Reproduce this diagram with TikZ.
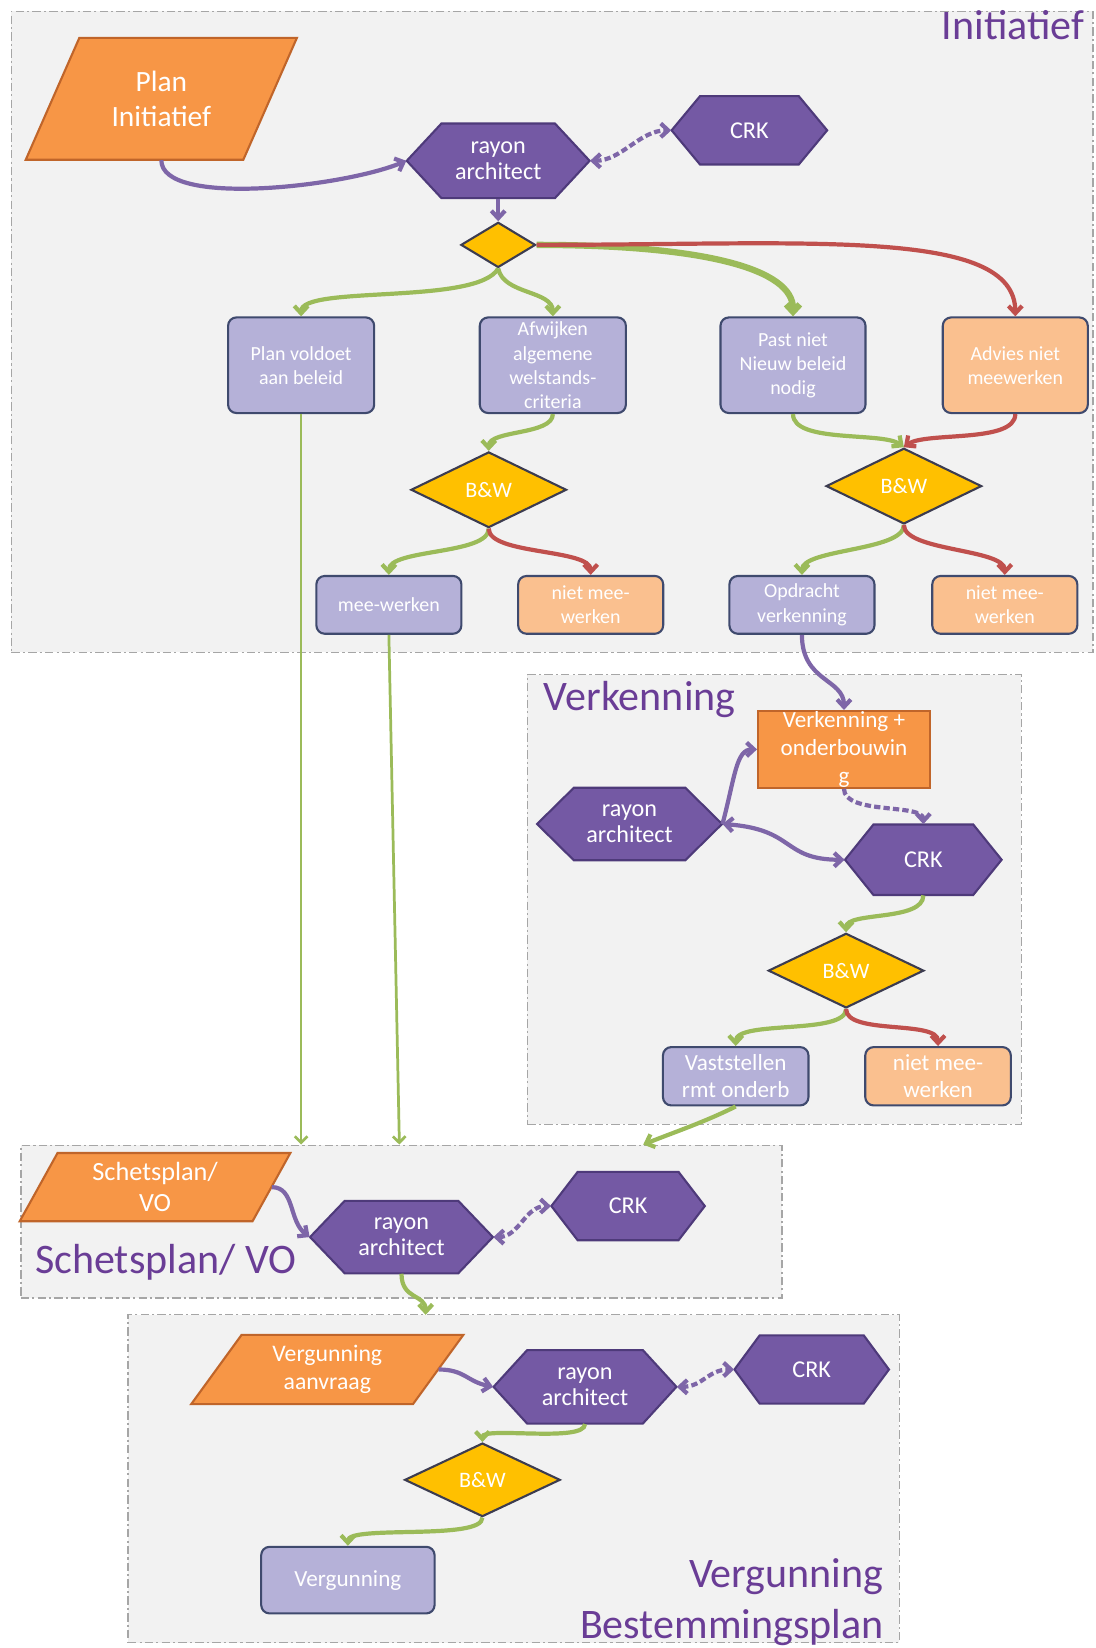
\documentclass[tikz,border=0pt]{standalone}
\usepackage{fontspec}
\setmainfont{Carlito}
\usetikzlibrary{shapes.geometric,arrows.meta,calc}

\definecolor{framefill}{HTML}{F2F2F2}
\definecolor{framedraw}{HTML}{A6A6A6}
\definecolor{hexfill}{HTML}{7459A4}
\definecolor{hexdraw}{HTML}{4E3A7A}
\definecolor{lav}{HTML}{B5B1D8}
\definecolor{boxdraw}{HTML}{3F4A6E}
\definecolor{lorange}{HTML}{FAC08F}
\definecolor{dorange}{HTML}{F79646}
\definecolor{dorangedraw}{HTML}{C0652A}
\definecolor{gold}{HTML}{FFC000}
\definecolor{diadraw}{HTML}{3C3C50}
\definecolor{cgreen}{HTML}{9BBB59}
\definecolor{cred}{HTML}{C0504D}
\definecolor{cpurple}{HTML}{7E66A8}
\definecolor{titlepurple}{HTML}{6A3D96}

\newcommand\myhex[7]{%
  \filldraw[hexshape] ({#2-#4/2},#3) -- ({#2-#4/2+#6},{#3-#5/2}) -- ({#2+#4/2-#6},{#3-#5/2}) -- ({#2+#4/2},#3) -- ({#2+#4/2-#6},{#3+#5/2}) -- ({#2-#4/2+#6},{#3+#5/2}) -- cycle;
  \node[hextext, minimum width={#4*0.5pt}, minimum height={#5*0.5pt}] (#1) at (#2,#3) {#7};}
\newcommand\mypara[8]{%
  \filldraw[parashape] ({#2-#4/2+#6/2},{#3-#5/2}) -- ({#2+#4/2+#6/2},{#3-#5/2}) -- ({#2+#4/2-#6/2},{#3+#5/2}) -- ({#2-#4/2-#6/2},{#3+#5/2}) -- cycle;
  \node[paratext, font=#7, minimum width={#4*0.5pt}, minimum height={#5*0.5pt}] (#1) at (#2,#3) {#8};}

\begin{document}
\begin{tikzpicture}[x=0.5pt,y=-0.5pt,
  frame/.style={draw=framedraw, fill=framefill, line width=0.8pt, dash pattern=on 4pt off 1.5pt on 1pt off 1.5pt, anchor=north west, inner sep=0pt},
  title/.style={text=titlepurple, font=\fontsize{20}{24}\selectfont, inner sep=0pt},
  hexshape/.style={fill=hexfill, draw=hexdraw, line width=1pt},
  hextext/.style={text=white, font=\fontsize{11.5}{12.5}\selectfont, align=center, inner sep=0pt},
  parashape/.style={fill=dorange, draw=dorangedraw, line width=1pt},
  paratext/.style={text=white, align=center, inner sep=0pt},
  rbox/.style={rounded corners=4pt, draw=boxdraw, line width=1pt, text=white, align=center, inner sep=0pt, font=\fontsize{9.5}{11.5}\selectfont},
  lavbox/.style={rbox, fill=lav},
  orbox/.style={rbox, fill=lorange},
  bigtext/.style={font=\fontsize{11}{13}\selectfont},
  dia/.style={diamond, fill=gold, draw=diadraw, line width=1pt, inner sep=0pt, text=white, font=\fontsize{10.5}{12}\selectfont},
  con/.style={line width=2pt, -{Straight Barb[length=3.5pt,width=6.5pt]}},
  gcon/.style={con, draw=cgreen},
  rcon/.style={con, draw=cred},
  pcon/.style={con, draw=cpurple},
  dpcon/.style={pcon, dash pattern=on 3pt off 1.5pt, {Straight Barb[length=3.5pt,width=6.5pt]}-{Straight Barb[length=3.5pt,width=6.5pt]}},
  gline/.style={draw=cgreen, line width=1.3pt, -{Straight Barb[length=3pt,width=6pt]}}
]
\fill[white] (0,0) rectangle (1042,1568);
\useasboundingbox (0,0) rectangle (1042,1568);

% frames
\node[frame, minimum width=514.5pt, minimum height=305pt] (fi) at (10,10) {};
\node[frame, minimum width=235pt, minimum height=214pt] (fv) at (501,641) {};
\node[frame, minimum width=362pt, minimum height=72.5pt] (fs) at (19,1089) {};
\node[frame, minimum width=367pt, minimum height=156pt] (fg) at (121,1250) {};

% titles
\node[title, anchor=base east] (ti) at (1032,38) {Initiatief};
\node[title, anchor=base west] (tv) at (517,676) {Verkenning};
\node[title, anchor=base west] (ts) at (33,1212) {Schetsplan/ VO};
\node[title, anchor=base east] (tg) at (841,1510) {Vergunning};
\node[title, anchor=base east] (tb) at (841,1559) {Bestemmingsplan};

% Initiatief
\mypara{pi}{153.5}{94}{207}{116}{51}{\fontsize{14}{16.5}\selectfont}{Plan\\Initiatief}
\myhex{ra1}{474}{153}{174}{71}{33}{rayon\\architect}
\myhex{crk1}{713}{124}{148}{65}{27}{CRK}
\node[dia, minimum width=35.5pt, minimum height=21.5pt] (d1) at (474,233) {};
\node[lavbox, minimum width=69.5pt, minimum height=45.5pt] (pv) at (286.5,347.5) {Plan voldoet\\aan beleid};
\node[lavbox, minimum width=69.5pt, minimum height=45.5pt] (aw) at (526,347.5) {Afwijken\\algemene\\welstands-\\criteria};
\node[lavbox, minimum width=69pt, minimum height=45.5pt] (pn) at (754.5,347.5) {Past niet\\Nieuw beleid\\nodig};
\node[orbox, minimum width=69pt, minimum height=45.5pt] (an) at (966,347.5) {Advies niet\\meewerken};
\node[dia, minimum width=74pt, minimum height=36pt] (bw1) at (465,466) {B\&W};
\node[dia, minimum width=74pt, minimum height=36pt] (bw2) at (860,462.5) {B\&W};
\node[lavbox, minimum width=69pt, minimum height=27.5pt] (mw) at (370,575.5) {mee-werken};
\node[orbox, minimum width=69pt, minimum height=27.5pt] (nm1) at (562,575.5) {niet mee-\\werken};
\node[lavbox, minimum width=69pt, minimum height=27.5pt] (ov) at (763,575.5) {Opdracht\\verkenning};
\node[orbox, minimum width=69pt, minimum height=27.5pt] (nm2) at (956,575.5) {niet mee-\\werken};

% Verkenning
\node[draw=dorangedraw, fill=dorange, line width=1pt, text=white, align=center, inner sep=0pt, font=\fontsize{11}{13.25}\selectfont, minimum width=81.75pt, minimum height=36.5pt] (vo) at (803,713) {Verkenning +\\onderbouwin\\g};
\myhex{ra2}{599}{784}{176}{69}{35}{rayon\\architect}
\myhex{crk2}{878.5}{818}{149}{67}{27}{CRK}
\node[dia, minimum width=74pt, minimum height=35.5pt] (bw3) at (805,923.5) {B\&W};
\node[lavbox, bigtext, minimum width=69.25pt, minimum height=27.75pt] (vs) at (700,1024) {Vaststellen\\rmt onderb};
\node[orbox, bigtext, minimum width=69.25pt, minimum height=27.75pt] (nm3) at (892.5,1024) {niet mee-\\werken};

% Schetsplan
\mypara{sk}{147.5}{1129.5}{221.5}{65}{36}{\fontsize{12.5}{15}\selectfont}{Schetsplan/\\VO}
\myhex{ra3}{382}{1177}{174}{69}{33}{rayon\\architect}
\myhex{crk3}{597.6}{1147.5}{146}{65}{25}{CRK}

% Vergunning
\mypara{va}{311.4}{1303}{211}{66}{48}{\fontsize{11.3}{13.5}\selectfont}{Vergunning\\aanvraag}
\myhex{ra4}{556.6}{1319.5}{174}{70}{32}{rayon\\architect}
\myhex{crk4}{772.3}{1303}{147}{65}{24}{CRK}
\node[dia, minimum width=74pt, minimum height=35pt] (bw4) at (459,1408) {B\&W};
\node[lavbox, bigtext, minimum width=82.5pt, minimum height=31.7pt] (vg) at (331,1503.4) {Vergunning};

% connectors Initiatief
\draw[pcon] (pi.south) .. controls +(0,45) and +(-60,25) .. (ra1.west);
\draw[dpcon] (ra1.east) .. controls +(30,0) and +(-30,0) .. (crk1.west);
\draw[pcon] (ra1.south) -- (d1.north);
\draw[gcon] (d1.south) .. controls +(-20,35) and +(0,-30) .. (pv.north);
\draw[gcon] (d1.south) .. controls +(5,25) and +(0,-25) .. (aw.north);
\draw[gcon, line width=3pt] (d1.east) .. controls +(160,0) and +(0,-45) .. (pn.north);
\draw[rcon] (d1.east) .. controls +(260,0) and +(0,-85) .. (an.north);
\draw[gcon] (aw.south) .. controls +(0,20) and +(0,-20) .. (bw1.north);
\draw[gcon] (pn.south) .. controls +(0,28) and +(-20,-15) .. (bw2.north);
\draw[rcon] (an.south) .. controls +(0,28) and +(20,-15) .. (bw2.north);
\draw[gcon] (bw1.south) .. controls +(0,25) and +(0,-25) .. (mw.north);
\draw[rcon] (bw1.south) .. controls +(0,25) and +(0,-25) .. (nm1.north);
\draw[gcon] (bw2.south) .. controls +(0,25) and +(0,-25) .. (ov.north);
\draw[rcon] (bw2.south) .. controls +(0,25) and +(0,-25) .. (nm2.north);
\draw[gline] (pv.south) -- (pv.south |- fs.north);
\coordinate (mwin) at (380,1089);
\draw[gline] (mw.south) -- (mwin);

% connectors Verkenning
\draw[pcon] (ov.south) .. controls +(0,45) and +(0,-30) .. (vo.north);
\draw[pcon] (ra2.east) .. controls +(12,-45) and +(-20,0) .. (vo.west);
\draw[pcon, {Straight Barb[length=3.5pt,width=6.5pt]}-{Straight Barb[length=3.5pt,width=6.5pt]}] (ra2.east) .. controls +(70,5) and +(-60,0) .. (crk2.west);
\draw[dpcon, -{Straight Barb[length=3.5pt,width=6.5pt]}] (vo.south) .. controls +(0,25) and +(0,-20) .. (crk2.north);
\draw[gcon] (crk2.south) .. controls +(0,25) and +(0,-20) .. (bw3.north);
\draw[gcon] (bw3.south) .. controls +(0,25) and +(0,-25) .. (vs.north);
\draw[rcon] (bw3.south) .. controls +(0,25) and +(0,-25) .. (nm3.north);
\coordinate (vsin) at (612,1089);
\draw[gcon] (vs.south) .. controls +(-30,15) and +(30,-12) .. (vsin);

% connectors Schetsplan
\draw[pcon] (sk.east) .. controls +(22,0) and +(-20,-15) .. (ra3.west);
\draw[dpcon] (ra3.east) .. controls +(25,0) and +(-25,0) .. (crk3.west);
\coordinate (rain) at (405,1251);
\draw[gcon] (ra3.south) .. controls +(0,25) and +(0,-20) .. (rain);

% connectors Vergunning
\draw[pcon] (va.east) .. controls +(25,0) and +(-25,-5) .. (ra4.west);
\draw[dpcon] (ra4.east) .. controls +(25,0) and +(-25,0) .. (crk4.west);
\draw[gcon] (ra4.south) .. controls +(0,18) and +(0,-15) .. (bw4.north);
\draw[gcon] (bw4.south) .. controls +(0,22) and +(0,-20) .. (vg.north);
\end{tikzpicture}
\end{document}
